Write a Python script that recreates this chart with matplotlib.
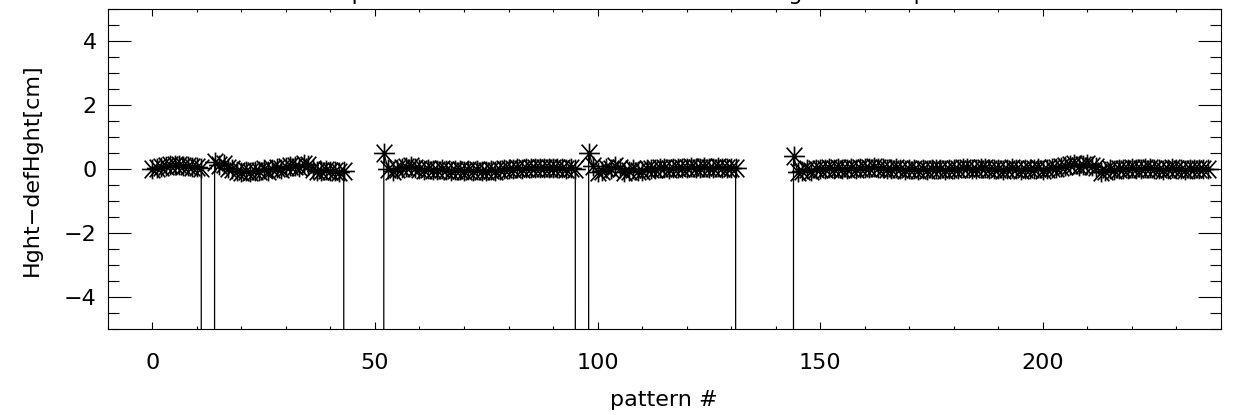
import matplotlib
matplotlib.use("Agg")
import matplotlib.pyplot as plt
from matplotlib.path import Path
from matplotlib.ticker import MultipleLocator

# pattern number and height offset [cm]; -999 marks patterns with no data
pattern = list(range(238))
hght = [
    0.00, 0.05, 0.08, 0.10, 0.12, 0.12, 0.12, 0.10, 0.10, 0.08,
    0.08, 0.03, -999., -999., 0.22, 0.12, 0.15, 0.05, 0.00, -0.05,
    -0.08, -0.05, -0.10, -0.05, -0.05, 0.00, -0.05, 0.02, 0.05, 0.02,
    0.08, 0.10, 0.10, 0.08, 0.15, 0.12, 0.00, -0.05, -0.05, -0.03,
    -0.05, -0.05, -0.08, -0.05, -999., -999., -999., -999., -999., -999.,
    -999., -999., 0.50, 0.00, -0.05, 0.00, 0.05, 0.08, 0.10, 0.05,
    0.00, -0.02, 0.00, -0.03, -0.02, 0.00, -0.03, -0.05, -0.03, -0.02,
    -0.05, -0.03, -0.05, -0.02, -0.05, -0.05, -0.03, -0.05, -0.02, 0.00,
    0.02, 0.00, 0.03, 0.02, 0.05, 0.03, 0.05, 0.05, 0.03, 0.05,
    0.05, 0.03, 0.05, 0.02, 0.03, 0.00, -999., -999., 0.52, 0.10,
    -0.10, -0.05, 0.05, 0.00, 0.10, 0.05, -0.10, -0.05, 0.00, -0.05,
    -0.05, 0.00, 0.02, 0.00, 0.03, 0.05, 0.02, 0.05, 0.03, 0.05,
    0.05, 0.08, 0.05, 0.05, 0.08, 0.05, 0.05, 0.08, 0.05, 0.05,
    0.03, 0.05, -999., -999., -999., -999., -999., -999., -999., -999.,
    -999., -999., -999., -999., 0.40, -0.10, -0.05, 0.00, -0.05, 0.00,
    0.02, 0.00, 0.03, 0.02, 0.05, 0.02, 0.00, 0.03, 0.02, 0.05,
    0.03, 0.05, 0.08, 0.05, 0.03, 0.00, 0.02, 0.05, 0.00, -0.03,
    0.00, 0.02, -0.02, 0.00, -0.03, 0.00, 0.02, 0.00, -0.02, 0.00,
    0.02, 0.00, 0.03, 0.05, 0.02, 0.00, 0.05, 0.03, 0.00, 0.02,
    0.00, -0.02, 0.00, 0.03, 0.00, -0.02, 0.00, 0.02, 0.00, 0.03,
    -0.02, 0.00, 0.05, 0.03, 0.08, 0.10, 0.12, 0.15, 0.10, 0.12,
    0.15, 0.10, 0.08, -0.10, -0.05, 0.00, -0.03, 0.00, 0.02, 0.00,
    0.03, 0.02, 0.00, 0.03, 0.05, 0.00, 0.02, -0.02, 0.00, 0.03,
    0.00, 0.02, -0.03, 0.00, 0.02, 0.00, 0.00, 0.02,
]

title = "Input data minus default slant when using these maps"

plt.rcParams['font.family'] = ['DejaVu Sans']

# IDL style asterisk (psym=2): plus and cross overlaid
ast = Path([(-1, 0), (1, 0), (0, -0.95), (0, 0.95),
            (-0.75, -0.85), (0.75, 0.85), (-0.75, 0.85), (0.75, -0.85)],
           [Path.MOVETO, Path.LINETO] * 4)

fig = plt.figure(figsize=(12.41, 4.15), dpi=100)
ax = fig.add_axes([0.0868, 0.2065, 0.8971, 0.7711])

ax.plot(pattern, hght, color='black', lw=0.9, marker=ast, ms=15,
        mfc='none', mec='black', mew=1.2)

ax.set_xlim(-10, 240)
ax.set_ylim(-5, 5)
ax.xaxis.set_major_locator(MultipleLocator(50))
ax.xaxis.set_minor_locator(MultipleLocator(10))
ax.yaxis.set_major_locator(MultipleLocator(2))
ax.yaxis.set_minor_locator(MultipleLocator(0.5))

ax.tick_params(axis='x', which='both', direction='in', top=True, bottom=True,
               labelsize=16, pad=17)
ax.tick_params(axis='x', which='major', length=5, width=0.8)
ax.tick_params(axis='x', which='minor', length=2.5, width=0.8)
ax.tick_params(axis='y', which='both', direction='in', left=True, right=True,
               labelsize=16, pad=8)
ax.tick_params(axis='y', which='major', length=16.5, width=0.8)
ax.tick_params(axis='y', which='minor', length=8, width=0.8)
for s in ax.spines.values():
    s.set_linewidth(0.8)

ax.set_xlabel('pattern #', fontsize=16, labelpad=12)
ax.set_ylabel('Hght\u2212defHght[cm]', fontsize=16)
ax.yaxis.set_label_coords(-0.059, 0.5)

fig.text(0.5121, 1 + 0.5 / 415, title, ha='center', va='baseline', fontsize=16)

fig.savefig('out.png', dpi=100)
